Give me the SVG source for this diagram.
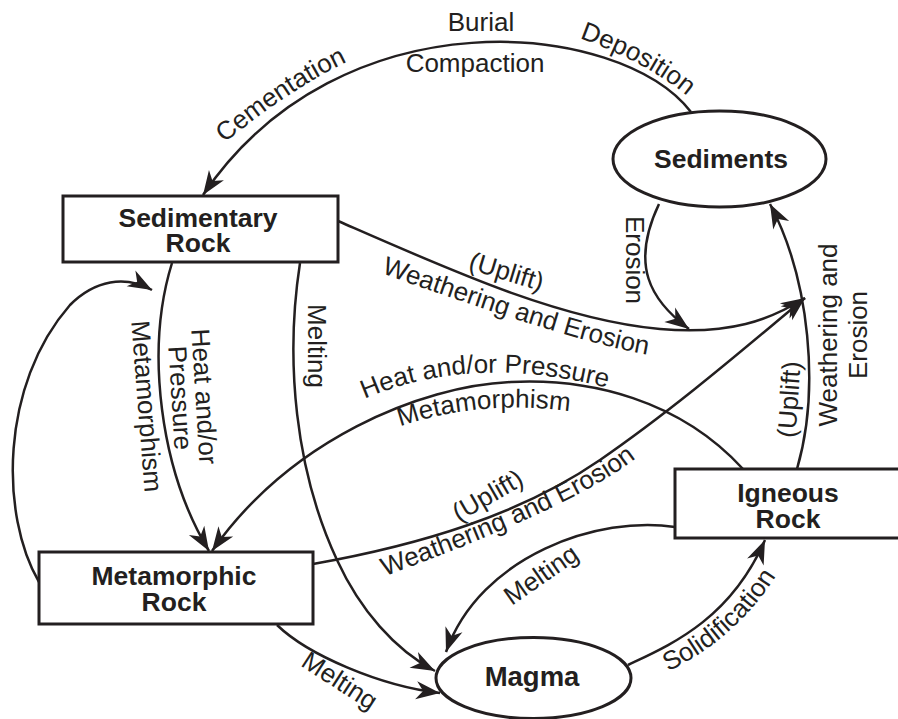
<svg xmlns="http://www.w3.org/2000/svg" width="898" height="719" viewBox="0 0 898 719">
<style>
.node{fill:#fff;stroke:#231f20;stroke-width:3}
.conn{fill:none;stroke:#231f20;stroke-width:2.5;stroke-linecap:butt}
.b{font-family:"Liberation Sans",Arial,Helvetica,sans-serif;font-weight:bold;font-size:26.5px;fill:#231f20;text-anchor:middle}
.l{font-family:"Liberation Sans",Arial,Helvetica,sans-serif;font-size:26px;fill:#231f20;text-anchor:middle}
</style>
<defs>
<marker id="arr" viewBox="-26 -11 28 22" refX="0" refY="0" markerWidth="28" markerHeight="22" orient="auto" markerUnits="userSpaceOnUse">
<path d="M0,0 L-24,-9 L-17,0 L-24,9 Z" fill="#231f20"/>
</marker>
<path id="pCem" d="M 221,146 Q 289,89 351,60"/>
<path id="pDep" d="M 579,38 Q 646,62 687,96"/>
<path id="pWE1" d="M 373,270 Q 580,345 656,356"/>
<path id="pHP" d="M 360,401 Q 470,351 612,389"/>
<path id="pMet2" d="M 395,428 Q 480,398 575,412"/>
<path id="pWE2" d="M 380,578 Q 580,505 640,455"/>
<path id="pSol" d="M 665,673 Q 736,640 778,573"/>
</defs>
<rect width="898" height="719" fill="#fff"/>
<g id="connectors">
<path class="conn" d="M 691,112 C 620,20 340,-8 203,195" marker-end="url(#arr)"/>
<path class="conn" d="M 172,263 C 145,350 160,470 209,551" marker-end="url(#arr)"/>
<path class="conn" d="M 300,263 C 285,360 295,470 337,560 C 360,610 395,650 435,671" marker-end="url(#arr)"/>
<path class="conn" d="M 338,221 C 450,270 560,320 660,329 C 730,335 770,320 805,298" marker-end="url(#arr)"/>
<path class="conn" d="M 659,204 C 630,265 650,300 689,329" marker-end="url(#arr)"/>
<path class="conn" d="M 797,469 C 820,390 810,280 770,204" marker-end="url(#arr)"/>
<path class="conn" d="M 743,469 C 680,400 590,378 511,382 C 420,386 290,440 212,551" marker-end="url(#arr)"/>
<path class="conn" d="M 39,582 C 0,515 0,385 70,305 C 95,280 125,275 152,290" marker-end="url(#arr)"/>
<path class="conn" d="M 313,564 C 420,545 520,515 600,460 C 680,405 760,335 805,298" marker-end="url(#arr)"/>
<path class="conn" d="M 277,625 C 308,655 380,686 440,693" marker-end="url(#arr)"/>
<path class="conn" d="M 675,527 C 600,515 480,555 446,652" marker-end="url(#arr)"/>
<path class="conn" d="M 628,665 C 670,645 730,620 765,540" marker-end="url(#arr)"/>
</g>
<g id="labels">
<text class="l" x="481" y="31">Burial</text>
<text class="l" x="475" y="72">Compaction</text>
<text class="l"><textPath href="#pCem" startOffset="50%">Cementation</textPath></text>
<text class="l"><textPath href="#pDep" startOffset="50%">Deposition</textPath></text>
<text class="l" transform="translate(504,280) rotate(17)">(Uplift)</text>
<text class="l"><textPath href="#pWE1" startOffset="50%">Weathering and Erosion</textPath></text>
<text class="l" transform="translate(626,260) rotate(90)">Erosion</text>
<text class="l" transform="translate(798,400) rotate(-86)">(Uplift)</text>
<text class="l" transform="translate(837,335) rotate(-90)"><tspan x="0" y="0">Weathering and</tspan><tspan x="0" y="30">Erosion</tspan></text>
<text class="l"><textPath href="#pHP" startOffset="50%">Heat and/or Pressure</textPath></text>
<text class="l"><textPath href="#pMet2" startOffset="50%">Metamorphism</textPath></text>
<text class="l" transform="translate(492,503) rotate(-30)">(Uplift)</text>
<text class="l"><textPath href="#pWE2" startOffset="50%">Weathering and Erosion</textPath></text>
<text class="l" transform="translate(195.5,397) rotate(86.5)"><tspan x="0" y="0">Heat and/or</tspan><tspan x="0" y="24">Pressure</tspan></text>
<text class="l" transform="translate(138,407) rotate(85.5)">Metamorphism</text>
<text class="l" transform="translate(308,346) rotate(90)">Melting</text>
<text class="l" transform="translate(335,688) rotate(33)">Melting</text>
<text class="l" transform="translate(546,582) rotate(-35)">Melting</text>
<text class="l"><textPath href="#pSol" startOffset="50%">Solidification</textPath></text>
</g>
<g id="sedimentary-rock">
<rect class="node" x="63" y="196" width="275" height="66"/>
<text class="b" x="198" y="227">Sedimentary</text>
<text class="b" x="198" y="252">Rock</text>
</g>
<g id="metamorphic-rock">
<rect class="node" x="39" y="552" width="274" height="72"/>
<text class="b" x="174" y="585">Metamorphic</text>
<text class="b" x="174" y="611">Rock</text>
</g>
<g id="igneous-rock">
<rect class="node" x="675" y="469" width="228" height="69"/>
<text class="b" x="788" y="502">Igneous</text>
<text class="b" x="788" y="528">Rock</text>
</g>
<g id="sediments">
<ellipse class="node" cx="719.5" cy="159" rx="106.5" ry="48"/>
<text class="b" x="721" y="168">Sediments</text>
</g>
<g id="magma">
<ellipse class="node" cx="533.5" cy="678" rx="97.5" ry="40.5"/>
<text class="b" x="532" y="686" style="font-size:27.5px">Magma</text>
</g>
</svg>
